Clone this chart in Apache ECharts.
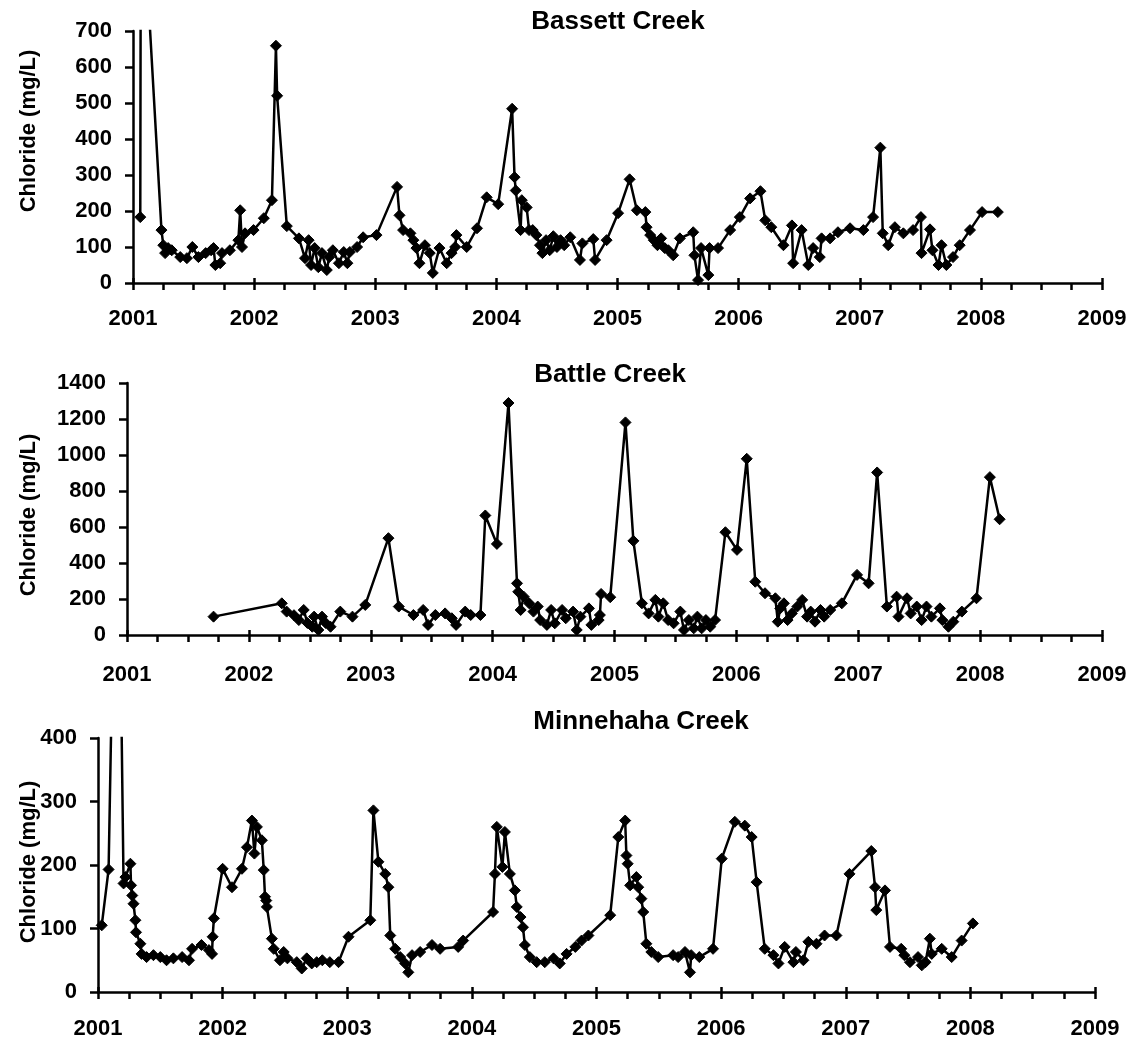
<!DOCTYPE html>
<html>
<head>
<meta charset="utf-8">
<script src="https://cdn.jsdelivr.net/npm/echarts@6/dist/echarts.min.js"></script>
<style>
html,body{margin:0;padding:0;background:#fff;}
#chart{width:1133px;height:1040px;}
</style>
</head>
<body>
<div id="chart"></div>
<script>
// ---- data: [decimal year, chloride mg/L] ----
const titles = ["Bassett Creek", "Battle Creek", "Minnehaha Creek"];
const yAxisName = "Chloride (mg/L)";
const yearTicks = [2001, 2002, 2003, 2004, 2005, 2006, 2007, 2008, 2009];
const yMax = [700, 1400, 400];
const yStep = [100, 200, 100];

const bassett = [
[2001.06,183],[2001.065,1150],[2001.235,147],[2001.25,105],[2001.265,83],[2001.29,97],[2001.32,91],
[2001.39,72],[2001.445,69],[2001.49,100],[2001.54,72],[2001.6,83],[2001.645,91],[2001.665,97],
[2001.68,50],[2001.72,55],[2001.735,83],[2001.8,91],[2001.87,119],[2001.885,202],[2001.9,100],
[2001.925,138],[2001.995,147],[2002.08,180],[2002.147,230],[2002.18,659],[2002.19,520],[2002.27,158],
[2002.37,124],[2002.42,69],[2002.45,119],[2002.47,50],[2002.5,97],[2002.53,44],[2002.56,83],
[2002.6,36],[2002.62,72],[2002.65,91],[2002.7,55],[2002.74,86],[2002.77,55],[2002.79,86],
[2002.85,100],[2002.9,127],[2003.01,133],[2003.18,267],[2003.2,188],[2003.23,147],[2003.29,138],
[2003.315,119],[2003.34,97],[2003.365,55],[2003.41,105],[2003.45,83],[2003.475,28],[2003.53,97],
[2003.59,55],[2003.63,83],[2003.66,100],[2003.67,133],[2003.755,100],[2003.84,152],[2003.92,238],
[2004.015,219],[2004.13,484],[2004.15,294],[2004.16,257],[2004.2,147],[2004.21,230],[2004.25,210],
[2004.27,147],[2004.3,147],[2004.33,133],[2004.36,105],[2004.38,83],[2004.41,119],[2004.44,91],
[2004.47,130],[2004.5,100],[2004.53,119],[2004.56,105],[2004.61,127],[2004.69,64],[2004.71,110],
[2004.8,122],[2004.815,64],[2004.91,119],[2005.005,194],[2005.1,288],[2005.16,202],[2005.23,197],
[2005.24,155],[2005.27,133],[2005.3,119],[2005.33,105],[2005.36,124],[2005.39,97],[2005.42,91],
[2005.46,77],[2005.515,124],[2005.625,141],[2005.635,77],[2005.665,8],[2005.69,97],[2005.75,22],
[2005.76,97],[2005.83,97],[2005.93,147],[2006.01,183],[2006.095,235],[2006.18,255],[2006.22,174],
[2006.27,155],[2006.37,105],[2006.44,160],[2006.45,55],[2006.52,147],[2006.575,50],[2006.615,97],
[2006.67,72],[2006.685,124],[2006.755,124],[2006.82,141],[2006.92,152],[2007.03,147],[2007.11,183],
[2007.17,376],[2007.19,138],[2007.235,105],[2007.29,155],[2007.36,138],[2007.44,147],[2007.505,183],
[2007.51,83],[2007.58,149],[2007.6,91],[2007.65,50],[2007.675,105],[2007.715,50],[2007.77,72],
[2007.825,105],[2007.91,147],[2008.01,197],[2008.14,197]
];

const battle = [
[2001.71,102],[2002.27,176],[2002.31,130],[2002.37,110],[2002.41,83],[2002.45,139],[2002.48,67],
[2002.52,46],[2002.535,102],[2002.57,28],[2002.6,102],[2002.63,67],[2002.67,46],[2002.75,130],
[2002.85,102],[2002.955,167],[2003.145,538],[2003.23,158],[2003.35,111],[2003.43,139],[2003.47,56],
[2003.53,111],[2003.61,120],[2003.665,93],[2003.7,56],[2003.775,130],[2003.82,111],[2003.9,111],
[2003.94,664],[2004.035,506],[2004.13,1289],[2004.2,287],[2004.21,240],[2004.23,139],[2004.255,213],
[2004.3,176],[2004.335,130],[2004.37,158],[2004.39,83],[2004.445,56],[2004.48,139],[2004.51,65],
[2004.57,139],[2004.6,93],[2004.66,130],[2004.69,28],[2004.72,102],[2004.79,148],[2004.81,56],
[2004.87,83],[2004.88,111],[2004.89,228],[2004.965,210],[2005.09,1181],[2005.155,523],[2005.225,176],
[2005.28,120],[2005.335,195],[2005.36,102],[2005.4,176],[2005.44,83],[2005.485,65],[2005.54,130],
[2005.57,28],[2005.61,83],[2005.65,37],[2005.68,102],[2005.715,37],[2005.75,83],[2005.785,46],
[2005.825,83],[2005.91,571],[2006.005,473],[2006.085,979],[2006.155,296],[2006.235,232],[2006.32,204],
[2006.34,74],[2006.36,148],[2006.39,176],[2006.42,83],[2006.455,120],[2006.5,158],[2006.54,195],
[2006.58,102],[2006.61,130],[2006.645,74],[2006.69,139],[2006.72,102],[2006.77,139],[2006.865,176],
[2006.99,334],[2007.085,287],[2007.155,903],[2007.235,158],[2007.315,213],[2007.33,102],[2007.4,204],
[2007.43,120],[2007.48,158],[2007.52,83],[2007.56,158],[2007.6,102],[2007.67,148],[2007.69,83],
[2007.74,46],[2007.78,74],[2007.85,130],[2007.97,204],[2008.08,877],[2008.16,643]
];

const minnehaha = [
[2001.03,105],[2001.085,193],[2001.155,950],[2001.205,171],[2001.22,181],[2001.26,202],[2001.265,168],
[2001.275,152],[2001.285,139],[2001.3,113],[2001.305,94],[2001.34,76],[2001.35,60],[2001.39,55],
[2001.445,58],[2001.5,55],[2001.55,50],[2001.605,53],[2001.675,55],[2001.73,50],[2001.755,68],
[2001.83,74],[2001.89,66],[2001.915,60],[2001.92,87],[2001.93,116],[2002.0,194],[2002.075,165],
[2002.155,194],[2002.195,228],[2002.235,270],[2002.255,218],[2002.275,260],[2002.315,239],[2002.33,192],
[2002.34,150],[2002.35,144],[2002.355,134],[2002.395,84],[2002.41,68],[2002.46,50],[2002.49,63],
[2002.52,53],[2002.595,47],[2002.635,37],[2002.675,53],[2002.715,45],[2002.755,47],[2002.8,50],
[2002.86,47],[2002.93,47],[2003.01,87],[2003.185,113],[2003.21,286],[2003.25,205],[2003.305,186],
[2003.33,165],[2003.345,89],[2003.385,68],[2003.425,55],[2003.465,45],[2003.49,31],[2003.52,58],
[2003.585,63],[2003.68,74],[2003.745,68],[2003.89,71],[2003.93,81],[2004.17,126],[2004.185,186],
[2004.2,260],[2004.245,197],[2004.265,252],[2004.305,186],[2004.345,160],[2004.36,134],[2004.39,118],
[2004.41,102],[2004.425,74],[2004.465,55],[2004.52,47],[2004.585,47],[2004.655,53],[2004.705,45],
[2004.76,60],[2004.83,71],[2004.88,81],[2004.935,89],[2005.11,121],[2005.175,244],[2005.23,270],
[2005.24,215],[2005.25,202],[2005.27,168],[2005.32,181],[2005.335,165],[2005.36,147],[2005.375,126],
[2005.4,76],[2005.44,63],[2005.495,55],[2005.615,58],[2005.655,55],[2005.71,63],[2005.75,31],
[2005.76,58],[2005.825,55],[2005.935,68],[2006.005,210],[2006.11,268],[2006.19,262],[2006.245,244],
[2006.285,173],[2006.35,68],[2006.42,58],[2006.46,45],[2006.51,71],[2006.58,47],[2006.6,63],
[2006.66,50],[2006.7,79],[2006.765,76],[2006.83,89],[2006.925,89],[2007.03,186],[2007.205,222],
[2007.235,165],[2007.245,129],[2007.315,160],[2007.355,71],[2007.445,68],[2007.47,58],[2007.515,47],
[2007.58,55],[2007.61,42],[2007.64,47],[2007.675,84],[2007.69,60],[2007.77,68],[2007.85,55],
[2007.93,81],[2008.02,108]
];

const seriesData = [bassett, battle, minnehaha];

// ---- layout ----
const FONT = '"Liberation Sans", Arial, sans-serif';
const grids = [
  {left: 133, top: 31, width: 969, height: 252},
  {left: 127, top: 383, width: 975, height: 252},
  {left: 98, top: 738, width: 997, height: 254}
];
const xLabelMargin = [25, 29, 26];
const titlePos = [[618, 22], [610, 375], [641, 722]];
const yNamePos = [[29, 131], [29, 515], [29, 862]];

const option = {
  animation: false,
  backgroundColor: '#ffffff',
  grid: grids.map(g => Object.assign({containLabel: false}, g)),
  xAxis: [],
  yAxis: [],
  series: [],
  graphic: []
};

for (let i = 0; i < 3; i++) {
  option.xAxis.push({
    type: 'value', gridIndex: i, position: 'bottom',
    min: yearTicks[0], max: yearTicks[yearTicks.length - 1], interval: 1,
    axisLine: {show: true, onZero: false, lineStyle: {color: '#000', width: 2.5}},
    axisTick: {show: true, inside: false, length: 7, lineStyle: {color: '#000', width: 2.5}},
    minorTick: {show: true, splitNumber: 4, length: 7, lineStyle: {color: '#000', width: 2.5}},
    splitLine: {show: false},
    axisLabel: {show: true, margin: xLabelMargin[i], color: '#000',
      fontFamily: FONT, fontWeight: 'bold', fontSize: 22,
      formatter: v => String(Math.round(v))}
  });
  // overlay axis (moved down onto the bottom line) for the upper half of the major ticks
  option.xAxis.push({
    type: 'value', gridIndex: i, position: 'top', offset: -grids[i].height,
    min: yearTicks[0], max: yearTicks[yearTicks.length - 1], interval: 1,
    axisLine: {show: false, onZero: false},
    axisTick: {show: true, inside: false, length: 5, lineStyle: {color: '#000', width: 2.5}},
    splitLine: {show: false}, axisLabel: {show: false}
  });
  option.yAxis.push({
    type: 'value', gridIndex: i, min: 0, max: yMax[i], interval: yStep[i],
    axisLine: {show: true, lineStyle: {color: '#000', width: 2.5}},
    axisTick: {show: true, inside: false, length: 8, lineStyle: {color: '#000', width: 2.5}},
    splitLine: {show: false},
    axisLabel: {show: true, margin: 21, color: '#000', fontFamily: FONT, fontWeight: 'bold', fontSize: 22,
      formatter: v => String(v)}
  });
  option.series.push({
    type: 'line', name: titles[i], xAxisIndex: i * 2, yAxisIndex: i,
    data: seriesData[i], clip: true,
    symbol: 'diamond', symbolSize: 11, showSymbol: true,
    lineStyle: {color: '#000', width: 2.5},
    itemStyle: {color: '#000', borderColor: '#000'}
  });
  option.graphic.push({
    type: 'text', x: titlePos[i][0], y: titlePos[i][1],
    style: {text: titles[i], fill: '#000', font: 'bold 26px ' + FONT, align: 'center', verticalAlign: 'middle'}
  });
  option.graphic.push({
    type: 'text', x: yNamePos[i][0], y: yNamePos[i][1], rotation: Math.PI / 2,
    style: {text: yAxisName, fill: '#000', font: 'bold 22px ' + FONT, align: 'center', verticalAlign: 'middle'}
  });
}

const chart = echarts.init(document.getElementById('chart'), null, {renderer: 'canvas'});
chart.setOption(option);
</script>
</body>
</html>
